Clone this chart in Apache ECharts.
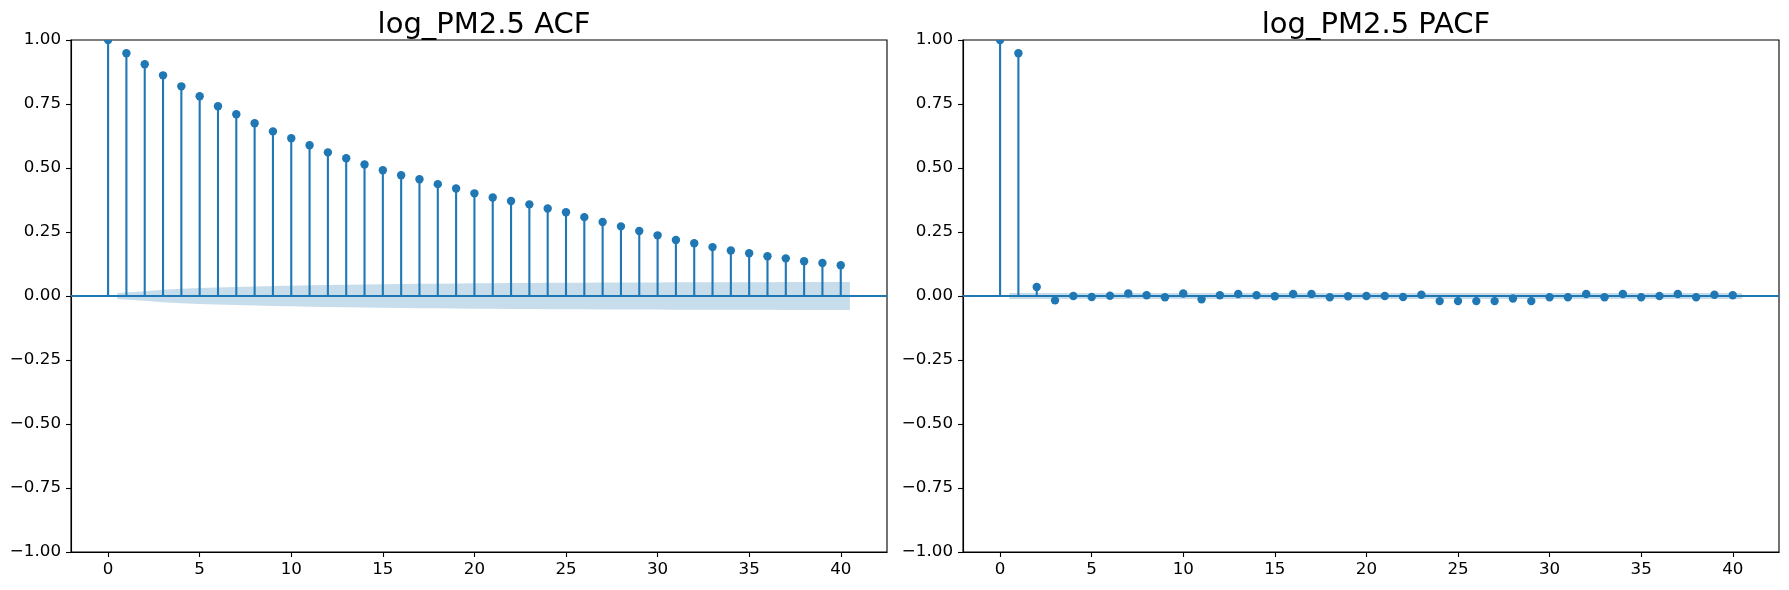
<!DOCTYPE html>
<html>
<head>
<meta charset="utf-8">
<title>log_PM2.5 ACF / PACF</title>
<script src="https://cdn.jsdelivr.net/npm/echarts@6/dist/echarts.min.js"></script>
<style>
    html, body { margin: 0; padding: 0; background: #fff; }
    #chart { width: 1789px; height: 590px; }
</style>
</head>
<body>
<div id="chart"></div>
<script>
var lags = [0, 1, 2, 3, 4, 5, 6, 7, 8, 9, 10, 11, 12, 13, 14, 15, 16, 17, 18, 19, 20,
    21, 22, 23, 24, 25, 26, 27, 28, 29, 30, 31, 32, 33, 34, 35, 36, 37, 38, 39, 40];

var acfValues = [1.000, 0.948, 0.905, 0.862, 0.819, 0.780, 0.741, 0.710, 0.675, 0.643, 0.616,
    0.589, 0.561, 0.538, 0.514, 0.491, 0.472, 0.456, 0.437, 0.420, 0.401,
    0.385, 0.371, 0.358, 0.342, 0.327, 0.308, 0.289, 0.272, 0.254, 0.237,
    0.219, 0.206, 0.191, 0.178, 0.167, 0.155, 0.147, 0.136, 0.129, 0.120];

var pacfValues = [1.000, 0.948, 0.035, -0.017, 0.000, -0.004, 0.001, 0.010, 0.003, -0.005, 0.010,
    -0.013, 0.003, 0.008, 0.003, -0.001, 0.008, 0.008, -0.005, -0.001, 0.000,
    0.000, -0.004, 0.005, -0.020, -0.020, -0.020, -0.020, -0.010, -0.020, -0.005,
    -0.005, 0.008, -0.005, 0.008, -0.005, 0.000, 0.008, -0.005, 0.005, 0.003];

// half width of the confidence band, lags 1..40
var acfBand = [0.012, 0.019, 0.024, 0.028, 0.031, 0.033, 0.035, 0.037, 0.039, 0.040,
    0.042, 0.043, 0.044, 0.045, 0.046, 0.047, 0.048, 0.048, 0.049, 0.050,
    0.050, 0.051, 0.051, 0.052, 0.052, 0.052, 0.053, 0.053, 0.053, 0.053,
    0.054, 0.054, 0.054, 0.054, 0.054, 0.054, 0.055, 0.055, 0.055, 0.055];
var pacfBand = [0.012, 0.012, 0.012, 0.012, 0.012, 0.012, 0.012, 0.012, 0.012, 0.012,
    0.012, 0.012, 0.012, 0.012, 0.012, 0.012, 0.012, 0.012, 0.012, 0.012,
    0.012, 0.012, 0.012, 0.012, 0.012, 0.012, 0.012, 0.012, 0.012, 0.012,
    0.012, 0.012, 0.012, 0.012, 0.012, 0.012, 0.012, 0.012, 0.012, 0.012];

var xTicks = [0, 5, 10, 15, 20, 25, 30, 35, 40];
var titles = ['log_PM2.5 ACF', 'log_PM2.5 PACF'];

var BLUE = '#1f77b4';
var FONT = 'DejaVu Sans';

var chart = echarts.init(document.getElementById('chart'));

// band x positions: lags 1..40, ends pushed out by half a lag
function bandX() {
    var xs = lags.slice(1);
    xs[0] -= 0.5;
    xs[xs.length - 1] += 0.5;
    return xs;
}

function bandSeries(idx, widths, sign) {
    var xs = bandX();
    return {
        type: 'line',
        xAxisIndex: idx,
        yAxisIndex: idx,
        data: xs.map(function (x, i) { return [x, sign * widths[i]]; }),
        showSymbol: false,
        silent: true,
        lineStyle: { width: 0 },
        areaStyle: { color: BLUE, opacity: 0.25 },
        z: 1
    };
}

function renderStem(params, api) {
    var base = api.coord([api.value(0), 0]);
    var top = api.coord([api.value(0), api.value(1)]);
    return {
        type: 'group',
        children: [
            {
                type: 'line',
                shape: { x1: base[0], y1: base[1], x2: top[0], y2: top[1] },
                style: { stroke: BLUE, lineWidth: 2.1 }
            },
            {
                type: 'circle',
                shape: { cx: top[0], cy: top[1], r: 4.2 },
                style: { fill: BLUE }
            }
        ]
    };
}

function stemSeries(idx, values) {
    return {
        type: 'custom',
        xAxisIndex: idx,
        yAxisIndex: idx,
        clip: true,
        renderItem: renderStem,
        encode: { x: 0, y: 1 },
        data: lags.map(function (l, i) { return [l, values[i]]; }),
        z: 3,
        markLine: {
            silent: true,
            symbol: 'none',
            label: { show: false },
            lineStyle: { color: BLUE, width: 2.1, type: 'solid' },
            data: [{ yAxis: 0 }],
            animation: false
        }
    };
}

function fmtY(v) {
    var s = Math.abs(v).toFixed(2);
    return (v < 0 ? '\u2212' : '') + s;
}

var gridLefts = [71, 963];
var axisLabelStyle = { color: '#000', fontFamily: FONT, fontSize: 16.7 };

var option = {
    backgroundColor: '#fff',
    animation: false,
    title: titles.map(function (t, i) {
        return {
            text: t,
            left: gridLefts[i] + 408,
            top: 6,
            textAlign: 'center',
            textStyle: { color: '#000', fontFamily: FONT, fontSize: 29, fontWeight: 'normal' }
        };
    }),
    grid: gridLefts.map(function (l) {
        return { left: l, top: 40, width: 816, height: 512, show: true, borderColor: '#000', borderWidth: 1.1, backgroundColor: 'transparent' };
    }),
    xAxis: [0, 1].map(function (i) {
        return {
            type: 'value',
            gridIndex: i,
            min: -2.025,
            max: 42.525,
            splitLine: { show: false },
            axisLine: { show: true, onZero: false, lineStyle: { color: '#000', width: 1.1 } },
            axisTick: { show: true, length: 5, lineStyle: { color: '#000', width: 1.1 }, customValues: xTicks },
            axisLabel: Object.assign({ margin: 9, customValues: xTicks }, axisLabelStyle)
        };
    }),
    yAxis: [0, 1].map(function (i) {
        return {
            type: 'value',
            gridIndex: i,
            min: -1,
            max: 1,
            interval: 0.25,
            splitLine: { show: false },
            axisLine: { show: true, onZero: false, lineStyle: { color: '#000', width: 1.1 } },
            axisTick: { show: true, length: 5, lineStyle: { color: '#000', width: 1.1 } },
            axisLabel: Object.assign({ margin: 10, formatter: fmtY }, axisLabelStyle)
        };
    }),
    series: [
        bandSeries(0, acfBand, 1),
        bandSeries(0, acfBand, -1),
        stemSeries(0, acfValues),
        bandSeries(1, pacfBand, 1),
        bandSeries(1, pacfBand, -1),
        stemSeries(1, pacfValues)
    ]
};

chart.setOption(option);
</script>
</body>
</html>
